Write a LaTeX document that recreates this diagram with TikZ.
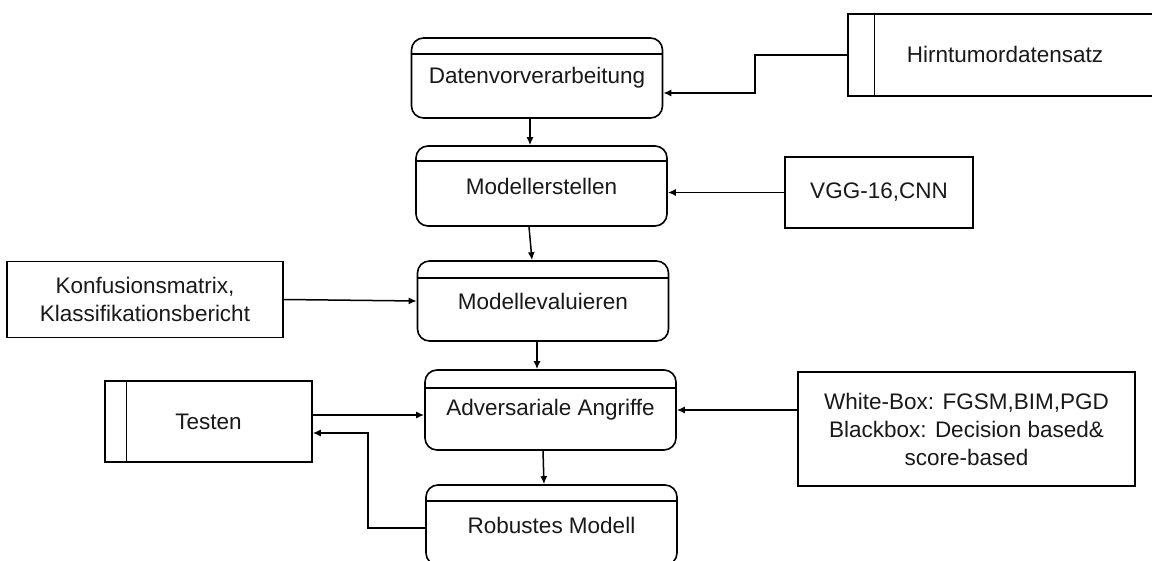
\documentclass[tikz,border=0pt]{standalone}
\usepackage{fontspec}
\setmainfont{Liberation Sans}
\usetikzlibrary{arrows.meta}
\begin{document}
\begin{tikzpicture}[x=1pt,y=-1pt,
  every node/.style={font=\fontsize{22.5}{28}\selectfont, text=black!90, align=center},
  procbox/.style={draw, line width=1.6pt, rounded corners=12pt, minimum width=251pt, minimum height=80pt, inner sep=0pt},
  srcbox/.style={draw, line width=1.5pt, inner sep=0pt},
  arr/.style={line width=1.5pt, -{Latex[length=8pt,width=7pt]}},
  lnk/.style={line width=1.5pt}]
\clip (0,0) rectangle (1152,561);
\fill[white] (0,0) rectangle (1152,561);

% process steps
\node[procbox] (prep)   at (537,78)    {Datenvorverarbeitung};
\node[procbox] (build)  at (541.5,186) {Modellerstellen};
\node[procbox] (eval)   at (543,301)   {Modellevaluieren};
\node[procbox] (attack) at (550.5,410) {Adversariale Angriffe};
\node[procbox] (robust) at (551.5,525) {Robustes Modell};

% header lines of the process steps
\foreach \n/\d in {prep/17, build/16, eval/18, attack/19, robust/17}
  \draw[lnk, line width=1.6pt] ([yshift=-\d pt]\n.north west) -- ([yshift=-\d pt]\n.north east);

% data store: dataset
\node[srcbox, minimum width=312pt, minimum height=82pt] (data) at (1004,55) {};
\node (datatxt) at (1005,54) {Hirntumordatensatz};
\draw[lnk] ([xshift=27pt]data.north west) -- ([xshift=27pt]data.south west);

% external inputs
\node[srcbox, minimum width=188pt, minimum height=71pt] (vgg) at (879,192.5) {VGG-16,CNN};
\node[srcbox, minimum width=276pt, minimum height=76pt] (conf) at (145,299.5)
  {Konfusionsmatrix,\\Klassifikationsbericht};
\node[srcbox, minimum width=337pt, minimum height=114pt] (white) at (966.5,429)
  {White-Box: FGSM,BIM,PGD\\Blackbox: Decision based\&\\score-based};

% data store: testing
\node[srcbox, minimum width=207pt, minimum height=81pt] (test) at (208.5,421.5) {Testen};
\draw[lnk] ([xshift=22pt]test.north west) -- ([xshift=22pt]test.south west);

% connectors
\coordinate (k1) at (755,93);
\draw[arr] (data.west) -| (k1) -- (prep.east |- k1);
\draw[arr] ([xshift=-7pt]prep.south) -- ([xshift=-11.5pt]build.north);
\draw[arr] (vgg.west) -- (build.east |- vgg.west);
\draw[arr] ([xshift=-12.5pt]build.south) -- ([xshift=-11pt]eval.north);
\draw[arr] (conf.east) -- (eval.west);
\draw[arr] ([yshift=6.5pt]test.east) -- (attack.west |- 0,415);
\draw[arr] ([xshift=-6pt]eval.south) -- ([xshift=-13.5pt]attack.north);
\draw[arr] (white.west |- attack.east) -- (attack.east);
\draw[arr] ([xshift=-7.5pt]attack.south) -- ([xshift=-7.5pt]robust.north);
\coordinate (k2) at (368,433);
\draw[arr] ([yshift=-3pt]robust.west) -| (k2) -- (test.east |- k2);
\end{tikzpicture}
\end{document}
